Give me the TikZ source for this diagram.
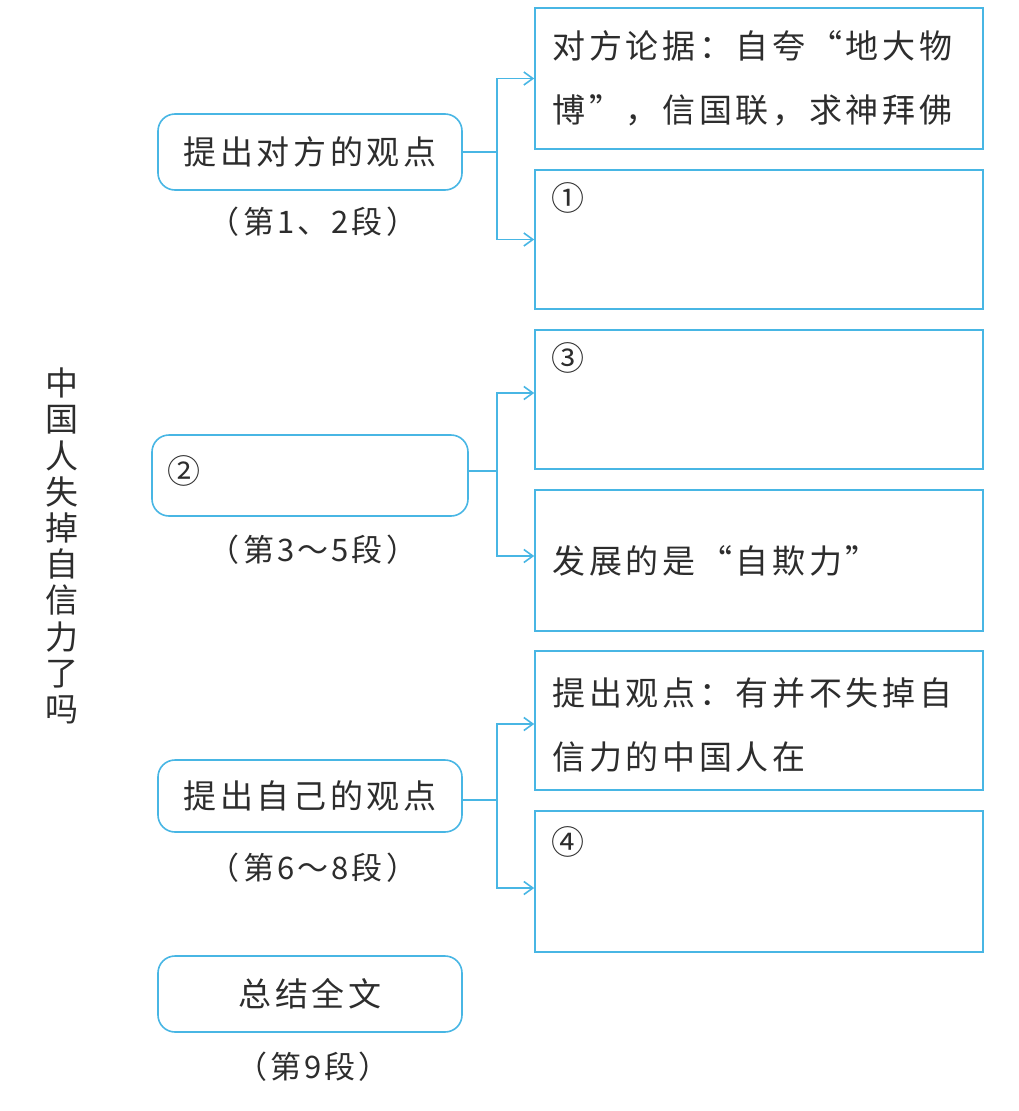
\documentclass[tikz,border=0pt]{standalone}
\usepackage{fontspec}
\setmainfont{Noto Sans CJK SC}
\newfontfamily\boxfont[LetterSpace=11]{Noto Sans CJK SC}
\newfontfamily\lblfont[LetterSpace=10]{Noto Sans CJK SC}
\usetikzlibrary{arrows.meta}
\definecolor{lineblue}{RGB}{72,182,228}
\definecolor{textgray}{RGB}{45,45,45}
\lineskiplimit=-100pt\relax
\begin{document}
\begin{tikzpicture}[x=1pt,y=-1pt,
  lb/.style={draw=lineblue, line width=1.6pt},
  lbox/.style={lb, rounded corners=17pt, minimum width=304pt, minimum height=76pt, inner sep=0pt},
  rbox/.style={lb, minimum width=448pt, inner sep=0pt},
  txt/.style={font=\boxfont\fontsize{33}{64}\selectfont, text=textgray},
  lbl/.style={font=\lblfont\fontsize{31}{34}\selectfont, text=textgray},
  conn/.style={draw=lineblue, line width=1.6pt, -{Straight Barb[length=9pt,width=13pt,line width=1.6pt]}}]
\useasboundingbox (0,0) rectangle (1018,1111);

% title
\node[text=textgray, align=center, font=\fontsize{33}{36.2}\selectfont] (title) at (62,546)
  {中\\国\\人\\失\\掉\\自\\信\\力\\了\\吗};

% left boxes
\node[lbox, txt] (a) at (310,152) {提出对方的观点};
\node[lbl] (al) at (313,222) {（第1、2段）};
\node[lbox, minimum width=316pt, minimum height=81pt] (b) at (310,475.5) {};
\node[txt, anchor=west] (bt) at (164,471) {②};
\node[lbl] (bl) at (313,550) {（第3～5段）};
\node[lbox, txt, minimum height=72pt] (c) at (310,796) {提出自己的观点};
\node[lbl] (cl) at (313,868) {（第6～8段）};
\node[lbox, txt] (d) at (310,994) {总结全文};
\node[lbl] (dl) at (313,1067) {（第9段）};

% right boxes
\node[rbox, minimum height=141pt] (r1) at (759,78.5) {};
\node[rbox, minimum height=139pt] (r2) at (759,239.5) {};
\node[rbox, minimum height=139pt] (r3) at (759,399.5) {};
\node[rbox, minimum height=141pt] (r4) at (759,560.5) {};
\node[rbox, minimum height=139pt] (r5) at (759,720.5) {};
\node[rbox, minimum height=141pt] (r6) at (759,881.5) {};

\node[txt, anchor=west, align=left] (r1t) at ([xshift=15pt]r1.west) {对方论据：自夸“地大物\\博”，信国联，求神拜佛};
\node[txt, anchor=west] (r2t) at (548,198) {①};
\node[txt, anchor=west] (r3t) at (548,358) {③};
\node[txt, anchor=west] (r4t) at ([xshift=15pt]r4.west) {发展的是“自欺力”};
\node[txt, anchor=west, align=left] (r5t) at ([xshift=15pt,yshift=-4pt]r5.west) {提出观点：有并不失掉自\\信力的中国人在};
\node[txt, anchor=west] (r6t) at (548,842) {④};

% connectors
\coordinate (ja) at (497,152);
\draw[lb] (a.east) -- (ja);
\draw[conn] (ja) |- (r1.west);
\draw[conn] (ja) |- (r2.west);

\coordinate (jb) at (497,471);
\draw[lb] ([yshift=4.5pt]b.east) -- (jb);
\draw[conn] (jb) |- ([yshift=6.5pt]r3.west);
\draw[conn] (jb) |- ([yshift=4.5pt]r4.west);

\coordinate (jc) at (497,800);
\draw[lb] ([yshift=-4pt]c.east) -- (jc);
\draw[conn] (jc) |- ([yshift=-3.5pt]r5.west);
\draw[conn] (jc) |- ([yshift=-6.5pt]r6.west);
\end{tikzpicture}
\end{document}
